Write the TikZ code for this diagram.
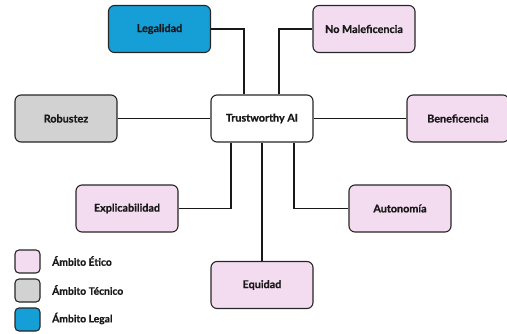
\documentclass[tikz,border=0pt]{standalone}
\usepackage{fontspec}
\setmainfont{Lato}[BoldFeatures={FakeBold=0.8}]
\begin{document}
\begin{tikzpicture}[x=1pt,y=-1pt,
  box/.style={draw=black!85,line width=1.1pt,rounded corners=6pt,minimum width=102pt,minimum height=47pt,inner sep=0pt,font=\fontsize{10.8}{12}\selectfont\bfseries,text=black!90},
  etico/.style={box,fill=pinkfill},
  tecnico/.style={box,fill=grayfill},
  legal/.style={box,fill=bluefill},
  legbox/.style={draw=black!85,line width=1.1pt,rounded corners=4pt,minimum width=25pt,minimum height=23pt,inner sep=0pt},
  legtext/.style={anchor=west,font=\fontsize{10.3}{11}\selectfont\bfseries,text=black!90,inner sep=0pt},
  conn/.style={draw=black!90,line width=1.1pt}]
\definecolor{pinkfill}{HTML}{F3DCF0}
\definecolor{grayfill}{HTML}{D2D2D2}
\definecolor{bluefill}{HTML}{169FD6}
\useasboundingbox (0,0) rectangle (507,333);
\node[legal]   (leg) at (159.5,29) {Legalidad};
\node[etico]   (nom) at (364,29) {No Maleficencia};
\node[tecnico] (rob) at (66,118.5) {Robustez};
\node[box,fill=white] (tai) at (262,118.5) {Trustworthy AI};
\node[etico]   (ben) at (458,118.5) {Beneficencia};
\node[etico]   (exp) at (127,208.5) {Explicabilidad};
\node[etico]   (aut) at (400,208.5) {Autonomía};
\node[etico]   (equ) at (262,285) {Equidad};
\draw[conn] (leg.east) -| ([xshift=-18pt]tai.north);
\draw[conn] (nom.west) -| ([xshift=17pt]tai.north);
\draw[conn] (rob.east) -- (tai.west);
\draw[conn] (tai.east) -- (ben.west);
\draw[conn] (exp.east) -| ([xshift=-31pt]tai.south);
\draw[conn] (aut.west) -| ([xshift=32pt]tai.south);
\draw[conn] (tai.south) -- (equ.north);
\node[legbox,fill=pinkfill] (l1) at (27.5,261.5) {};
\node[legbox,fill=grayfill] (l2) at (27.5,290.5) {};
\node[legbox,fill=bluefill] (l3) at (27.5,319.5) {};
\node[legtext] (t1) at (52,261) {Ámbito Ético};
\node[legtext] (t2) at (52,290) {Ámbito Técnico};
\node[legtext] (t3) at (52,318.5) {Ámbito Legal};
\end{tikzpicture}
\end{document}
